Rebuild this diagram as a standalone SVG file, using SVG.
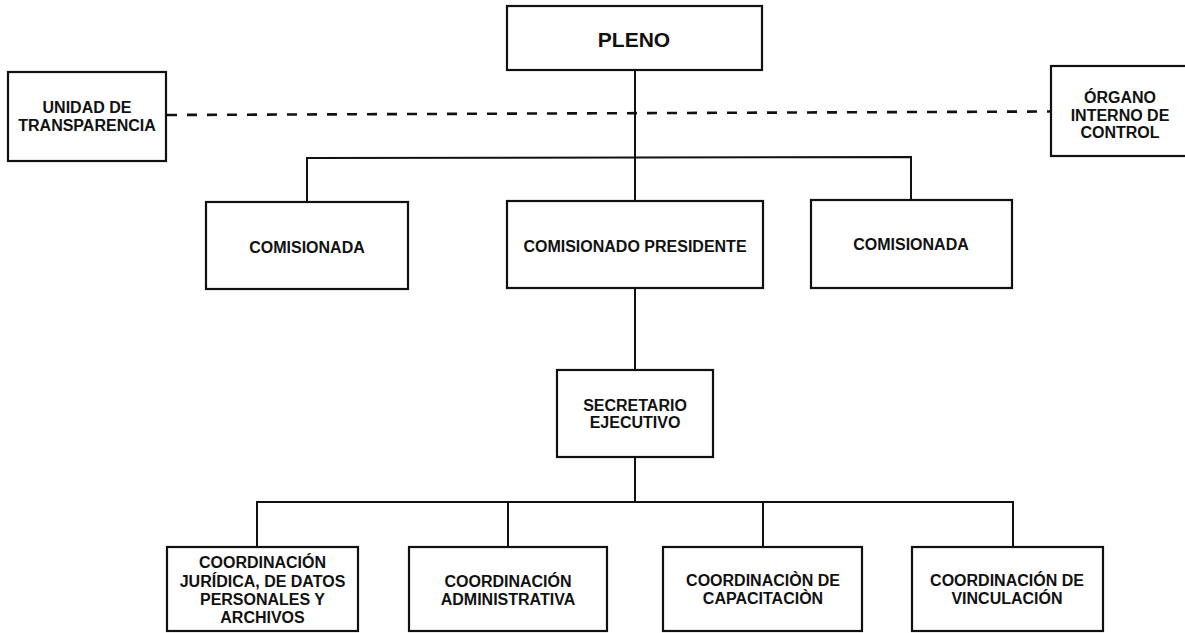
<svg xmlns="http://www.w3.org/2000/svg" width="1185" height="633" viewBox="0 0 1185 633">
<style>
.box{fill:#fff;stroke:#111;stroke-width:2.2}
.ln{fill:none;stroke:#111;stroke-width:2}
.dash{fill:none;stroke:#111;stroke-width:2.6;stroke-dasharray:10 10}
text{font-family:"Liberation Sans",Arial,sans-serif;font-weight:bold;font-size:16px;fill:#111;text-anchor:middle}
.big{font-size:21px}
</style>
<rect width="1185" height="633" fill="#fff"/>
<g id="connectors">
<line class="dash" x1="167" y1="115" x2="1050" y2="111.5"/>
<line class="ln" x1="635" y1="70" x2="635" y2="202"/>
<polyline class="ln" points="307,202 307,158 911,157 911,201"/>
<line class="ln" x1="635" y1="288" x2="635" y2="370"/>
<line class="ln" x1="635" y1="457" x2="635" y2="502"/>
<polyline class="ln" points="257,547 257,502 1013,502 1013,547"/>
<line class="ln" x1="508" y1="502" x2="508" y2="547"/>
<line class="ln" x1="763" y1="502" x2="763" y2="547"/>
</g>
<g id="pleno">
<rect class="box" x="507" y="6" width="255" height="64"/>
<text class="big" x="634" y="47">PLENO</text>
</g>
<g id="unidad-transparencia">
<rect class="box" x="8" y="72" width="158" height="89"/>
<text x="87" y="113">UNIDAD DE</text>
<text x="87" y="131">TRANSPARENCIA</text>
</g>
<g id="organo-interno">
<rect class="box" x="1051" y="66" width="137" height="90"/>
<text x="1120" y="103">ÓRGANO</text>
<text x="1120" y="121">INTERNO DE</text>
<text x="1120" y="138">CONTROL</text>
</g>
<g id="comisionada-izq">
<rect class="box" x="206" y="202" width="202" height="87"/>
<text x="307" y="253">COMISIONADA</text>
</g>
<g id="comisionado-presidente">
<rect class="box" x="507" y="201" width="256" height="87"/>
<text x="635" y="252">COMISIONADO PRESIDENTE</text>
</g>
<g id="comisionada-der">
<rect class="box" x="811" y="200" width="201" height="88"/>
<text x="911" y="250">COMISIONADA</text>
</g>
<g id="secretario-ejecutivo">
<rect class="box" x="557" y="370" width="156" height="87"/>
<text x="635" y="411">SECRETARIO</text>
<text x="635" y="428">EJECUTIVO</text>
</g>
<g id="coord-juridica">
<rect class="box" x="167" y="547" width="191" height="84"/>
<text x="262.5" y="568">COORDINACIÓN</text>
<text x="262.5" y="586.5">JURÍDICA, DE DATOS</text>
<text x="262.5" y="604.5">PERSONALES Y</text>
<text x="262.5" y="622.5">ARCHIVOS</text>
</g>
<g id="coord-administrativa">
<rect class="box" x="409" y="547" width="198" height="84"/>
<text x="508" y="587">COORDINACIÓN</text>
<text x="508" y="605">ADMINISTRATIVA</text>
</g>
<g id="coord-capacitacion">
<rect class="box" x="663" y="547" width="199" height="84"/>
<text x="763" y="586">COORDINACIÒN DE</text>
<text x="763" y="604">CAPACITACIÒN</text>
</g>
<g id="coord-vinculacion">
<rect class="box" x="912" y="547" width="191" height="84"/>
<text x="1007" y="586">COORDINACIÓN DE</text>
<text x="1007" y="604">VINCULACIÓN</text>
</g>
</svg>
